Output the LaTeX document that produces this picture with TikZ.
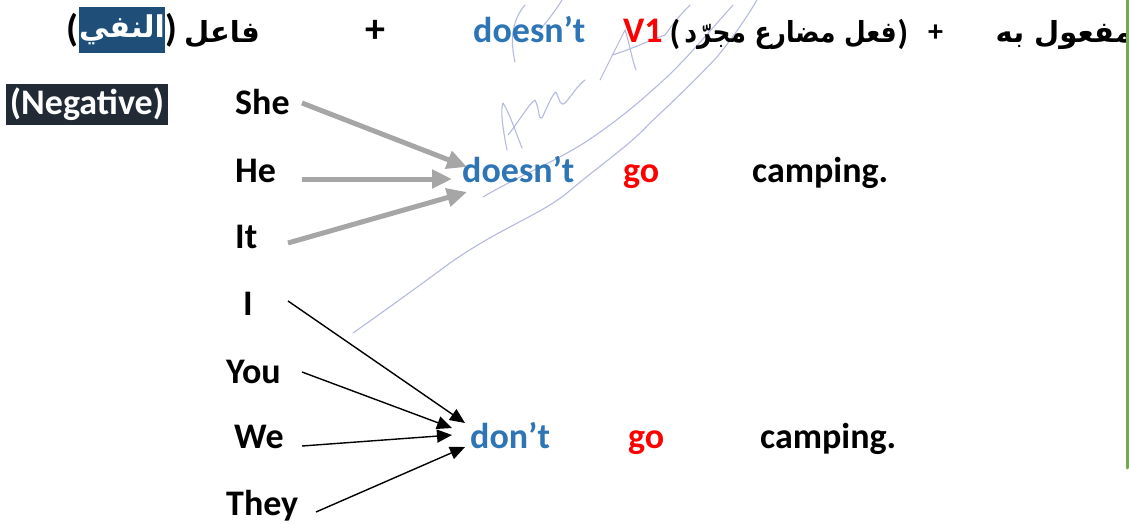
\documentclass[tikz,border=0pt]{standalone}
\usepackage{fontspec}
\setmainfont{Carlito}
\newfontfamily\arabicfont[Script=Arabic]{DejaVu Sans}
\TeXXeTstate=1
\usetikzlibrary{arrows.meta}
\definecolor{blueword}{HTML}{2E75B6}
\definecolor{redword}{HTML}{FF0000}
\definecolor{grayarrow}{HTML}{A6A6A6}
\definecolor{navybox}{HTML}{222A35}
\definecolor{hlblue}{HTML}{1F4E79}
\definecolor{greenline}{HTML}{70AD47}
\definecolor{pen}{HTML}{B4BAE0}
\begin{document}
\begin{tikzpicture}[x=1pt,y=-1pt,
 word/.style={inner sep=0pt, anchor=base west, font=\fontsize{36}{40}\selectfont\bfseries},
 ar/.style={inner sep=0pt, anchor=base east, font=\fontsize{29}{32}\selectfont\arabicfont\bfseries},
 paren/.style={inner sep=0pt, font=\fontsize{38}{42}\selectfont\bfseries},
 grayarr/.style={draw=grayarrow, line width=5pt, -{Triangle[length=20pt,width=18pt]}},
 blackarr/.style={draw=black, line width=1.4pt, -{Triangle[length=15pt,width=13pt]}},
 sig/.style={draw=pen, line width=1.1pt, line cap=round, line join=round}]
\useasboundingbox (0,0) rectangle (1129,524);
% signature (faint pen)
\draw[sig] (353,333) .. controls (360,328) and (400,300) .. (450,263) .. controls (500,228) and (540,215) .. (567,193) .. controls (600,165) and (630,145) .. (650,123) .. controls (680,95) and (700,75) .. (717,57) .. controls (735,35) and (748,15) .. (757,0);
\draw[sig] (483,197) .. controls (520,175) and (560,160) .. (593,137) .. controls (625,115) and (645,97) .. (667,77) .. controls (690,55) and (715,25) .. (733,5);
\draw[sig] (507,150) .. controls (503,130) and (500,110) .. (503,103) .. controls (508,110) and (515,130) .. (522,148);
\draw[sig] (508,135) .. controls (520,120) and (528,105) .. (535,100) .. controls (540,110) and (538,120) .. (542,118) .. controls (548,105) and (552,95) .. (556,92) .. controls (560,100) and (560,108) .. (566,102) .. controls (572,95) and (578,85) .. (585,80);
\draw[sig] (600,80) .. controls (610,60) and (620,40) .. (625,30) .. controls (630,45) and (632,60) .. (636,70);
\draw[sig] (612,55) .. controls (630,50) and (650,40) .. (665,35) .. controls (672,25) and (680,15) .. (690,5);
\draw[sig] (515,62) .. controls (510,40) and (512,20) .. (525,5);
\draw[sig] (540,30) .. controls (548,20) and (556,10) .. (562,0);
% Negative box
\node[fill=navybox, text=white, inner sep=0pt, minimum width=162pt, minimum height=41pt,
      font=\fontsize{36}{40}\selectfont\bfseries] (negbox) at (87,104.5) {(Negative)};
% top line
\node[fill=hlblue, text=white, inner sep=0pt, minimum width=60pt, minimum height=46pt,
      font=\fontsize{30}{32}\selectfont\arabicfont\bfseries] (nafy) at (122,30) {\beginR النفي\endR};
\node[paren, anchor=east] (lp1) at (nafy.west) {(};
\node[paren, anchor=west] (rp1) at (nafy.east) {)};
\node[ar] (faal) at (260,43) {\beginR فاعل\endR};
\node[word, font=\fontsize{40}{44}\selectfont\bfseries] (plus1) at (365,43) {+};
\node[word, text=blueword] (doesnttop) at (473,43) {doesn’t};
\node[word, text=redword] (v1) at (623,43) {V1};
\node[paren, font=\fontsize{34}{40}\selectfont\bfseries] (lp2) at (675,34) {(};
\node[ar] (fil) at (897,43) {\scalebox{0.86}[1]{\beginR فعل مضارع مجرّد\endR}};
\node[paren, font=\fontsize{34}{40}\selectfont\bfseries] (rp2) at (903,34) {)};
\node[word, font=\fontsize{30}{34}\selectfont\bfseries] (plus2) at (928,42) {+};
\node[ar] (maful) at (1133,43) {\beginR مفعول به\endR};
% pronouns
\node[word] (she) at (235,115) {She};
\node[word] (he) at (235,182) {He};
\node[word] (it) at (235,248) {It};
\node[word] (i) at (243,315) {I};
\node[word] (you) at (226,383) {You};
\node[word] (we) at (234,448) {We};
\node[word] (they) at (226,515) {They};
% sentences
\node[word, text=blueword] (doesnt) at (462,182) {doesn’t};
\node[word, text=redword] (go1) at (623,182) {go};
\node[word] (camp1) at (752,182) {camping.};
\node[word, text=blueword] (dont) at (470,448) {don’t};
\node[word, text=redword] (go2) at (628,448) {go};
\node[word] (camp2) at (760,448) {camping.};
% arrow ends
\coordinate (s1) at (302,103); \coordinate (t1) at (467,167);
\coordinate (s2) at (302,179); \coordinate (t2) at (452,179);
\coordinate (s3) at (288,243); \coordinate (t3) at (467,192);
\coordinate (s4) at (288,301); \coordinate (t4) at (465,423);
\coordinate (s5) at (302,372); \coordinate (t5) at (452,428);
\coordinate (s6) at (302,446); \coordinate (t6) at (452,435);
\coordinate (s7) at (316,512); \coordinate (t7) at (465,447);
\draw[grayarr] (s1) -- (t1);
\draw[grayarr] (s2) -- (t2);
\draw[grayarr] (s3) -- (t3);
\draw[blackarr] (s4) -- (t4);
\draw[blackarr] (s5) -- (t5);
\draw[blackarr] (s6) -- (t6);
\draw[blackarr] (s7) -- (t7);
% green rule
\coordinate (gtop) at (1127,0); \coordinate (gbot) at (1127,468);
\draw[greenline, line width=3pt, line cap=round] (gtop) -- (gbot);
\end{tikzpicture}
\end{document}
